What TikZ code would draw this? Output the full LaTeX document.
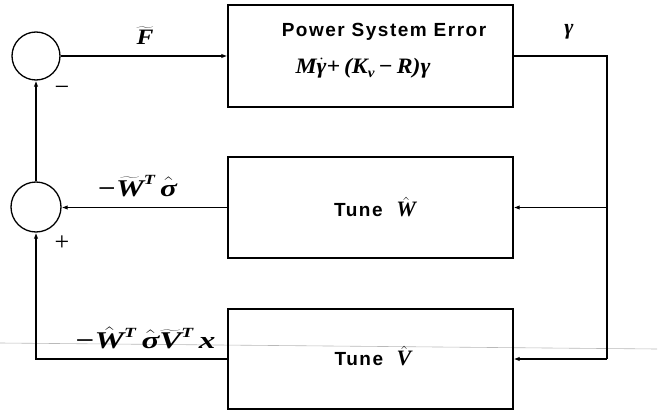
\RequirePackage{fix-cm}
\documentclass[tikz,border=0pt]{standalone}
\usepackage{fontspec}
\newfontfamily\boxfont[LetterSpace=8]{Liberation Sans}
\newfontfamily\mfnt{Liberation Serif}
\newcommand\mvtilde[1]{$\widetilde{\hbox{#1}}$}
\newcommand\mvhat[1]{$\hat{\hbox{#1}}$}
\newcommand\mvdot[1]{$\dot{\hbox{#1}}$}
\newcommand\mvsup[1]{\raisebox{0.48em}{\fontsize{14}{16}\selectfont #1}}
\newcommand\mvsub[1]{\raisebox{-0.22em}{\fontsize{14}{16}\selectfont #1}}
\usetikzlibrary{arrows.meta}
\begin{document}
\begin{tikzpicture}[x=1pt,y=-1pt,
  line width=1.3pt,
  arr/.style={-{Latex[length=6pt,width=4.5pt]}},
  blockbox/.style={draw, minimum width=285pt, inner sep=0pt},
  sumnode/.style={draw, circle, minimum size=48pt, inner sep=0pt},
  txt/.style={font=\boxfont\bfseries\fontsize{19}{22}\selectfont, inner sep=0pt},
  mth/.style={font=\mfnt\bfseries\itshape\fontsize{22}{26}\selectfont, inner sep=0pt},
  bigmth/.style={font=\mfnt\bfseries\itshape\fontsize{24}{28}\selectfont, inner sep=0pt},
  sgn/.style={font=\mfnt\fontsize{26}{30}\selectfont, inner sep=0pt}]
\useasboundingbox (0,0) rectangle (664,412);
% scan line artifact
\draw[gray!55, line width=0.6pt] (0,343) -- (657,349);
% sums
\node[sumnode] (s1) at (36,56) {};
\node[sumnode, minimum size=50pt] (s2) at (36,207) {};
% blocks
\node[blockbox, minimum height=102pt] (b1) at (370.5,56) {};
\node[blockbox, minimum height=101pt] (b2) at (370.5,207.5) {};
\node[blockbox, minimum height=100pt] (b3) at (370.5,359) {};
% block texts
\node[txt] (t1) at (384,32) {Power System Error};
\node[mth] (t2) at (363,68) {\scalebox{1.08}[1]{M\mvdot{γ}+\,(K\mvsub{v}\,−\,R)γ}};
\node[txt] (t3) at (375,207) {Tune\ \ {\mfnt\bfseries\itshape\fontsize{22}{26}\selectfont\mvhat{W}}};
\node[txt] (t4) at (373,356) {Tune\ \ {\mfnt\bfseries\itshape\fontsize{22}{26}\selectfont\mvhat{V}}};
% feedback wiring
\coordinate (c1) at (607,56);
\coordinate (c2) at (607,207.5);
\coordinate (c3) at (607,359);
\draw (b1.east) -- (c1) -- (c3);
\draw[arr] (c3) -- (b3.east);
\draw[arr] (c2) -- (b2.east);
\draw[arr] (s1.east) -- (b1.west);
\draw[arr] (b2.west) -- (s2.east |- b2.west);
\draw[arr] (s2.north) -- (s1.south);
\draw[arr] (b3.west) -| (s2.south);
% labels
\node[mth] (lF) at (145,36) {\scalebox{1.15}[1]{\mvtilde{F}}};
\node[mth] (lg) at (569,32) {γ};
\node[sgn] (lm) at (62,91) {−};
\node[sgn] (lp) at (62,243) {+};
\node[bigmth] (lw) at (137,186) {\scalebox{1.3}[1]{−\mvtilde{W}\mvsup{T}\,\mvhat{σ}}};
\node[bigmth] (lv) at (145,338) {\scalebox{1.38}[1]{−\mvhat{W}\mvsup{T}\,\mvhat{σ}\mvtilde{V}\mvsup{T}\,x}};
\end{tikzpicture}
\end{document}
